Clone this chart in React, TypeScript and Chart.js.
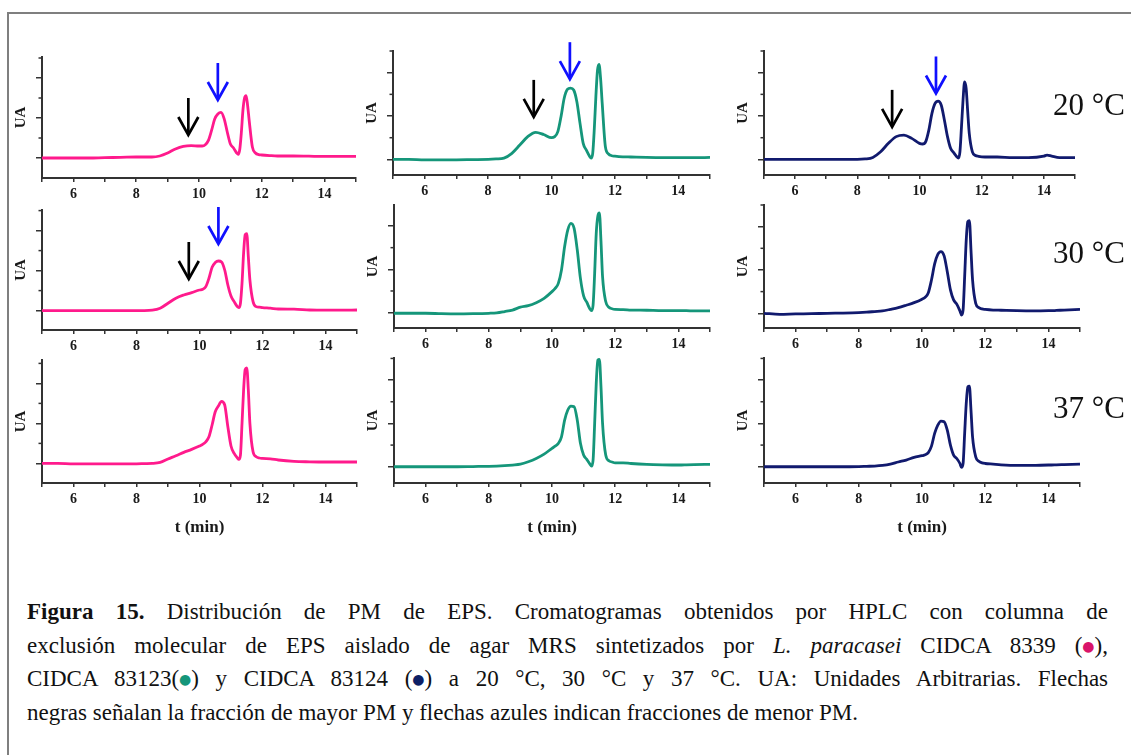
import React, { useEffect, useRef } from "react";
import { Chart, registerables } from "chart.js";

Chart.register(...registerables);

// ---------------- data ----------------
const timeMin = [5, 5.5, 6, 6.5, 7, 7.5, 8, 8.25, 8.5, 8.75, 9, 9.25, 9.5, 9.75, 10, 10.1, 10.2, 10.3, 10.4, 10.5, 10.6, 10.7, 10.8, 10.9, 11, 11.1, 11.2, 11.25, 11.3, 11.35, 11.4, 11.45, 11.5, 11.55, 11.6, 11.7, 11.8, 11.9, 12, 12.25, 12.5, 13, 13.5, 14, 14.1, 14.25, 14.5, 15];

// CIDCA 8339 (pink)
const pink20 = [0, 0, 0, 0, 0.02, 0.03, 0.05, 0.05, 0.05, 0.1, 0.25, 0.45, 0.58, 0.62, 0.6, 0.6, 0.66, 0.88, 1.38, 1.95, 2.2, 2.28, 1.97, 1.3, 0.7, 0.5, 0.25, 0.18, 0.45, 1.3, 2.4, 3.0, 3.12, 2.6, 1.85, 0.55, 0.25, 0.17, 0.15, 0.12, 0.1, 0.1, 0.09, 0.08, 0.08, 0.08, 0.08, 0.08];
const pink30 = [0, 0, 0, 0, 0, 0, 0, 0, 0.02, 0.12, 0.37, 0.62, 0.78, 0.9, 1.03, 1.07, 1.2, 1.62, 2.17, 2.4, 2.48, 2.43, 2.03, 1.28, 0.73, 0.45, 0.2, 0.15, 0.37, 1.37, 2.87, 3.8, 3.85, 2.7, 1.53, 0.45, 0.2, 0.17, 0.15, 0.12, 0.08, 0.07, 0.03, 0.02, 0.02, 0.02, 0.02, 0.03];
const pink37 = [0, 0, -0.02, -0.02, -0.02, -0.02, -0.02, -0.01, 0, 0.05, 0.22, 0.38, 0.55, 0.7, 0.87, 0.95, 1.08, 1.33, 1.92, 2.58, 2.87, 3.1, 2.92, 1.83, 0.87, 0.5, 0.28, 0.2, 0.42, 2.0, 3.67, 4.7, 4.78, 3.67, 2.0, 0.58, 0.33, 0.27, 0.25, 0.23, 0.17, 0.1, 0.08, 0.07, 0.07, 0.07, 0.07, 0.07];

// CIDCA 83123 (green)
const green20 = [0, 0, -0.02, -0.02, -0.02, -0.01, 0, 0.02, 0.06, 0.28, 0.66, 1.05, 1.25, 1.15, 1.0, 1.05, 1.28, 1.97, 2.82, 3.23, 3.29, 3.2, 2.66, 1.66, 0.74, 0.43, 0.15, 0.06, 0.28, 1.4, 2.9, 4.1, 4.38, 3.7, 2.58, 0.58, 0.25, 0.17, 0.15, 0.12, 0.11, 0.09, 0.08, 0.08, 0.08, 0.08, 0.08, 0.09];
const green30 = [-0.03, -0.03, -0.03, -0.05, -0.06, -0.05, -0.03, -0.01, 0.05, 0.12, 0.25, 0.32, 0.46, 0.66, 0.97, 1.12, 1.35, 1.97, 3.05, 3.82, 4.12, 3.89, 2.89, 1.58, 0.77, 0.48, 0.17, 0.09, 0.35, 1.82, 3.66, 4.45, 4.6, 3.3, 1.66, 0.51, 0.25, 0.18, 0.15, 0.14, 0.12, 0.11, 0.09, 0.09, 0.09, 0.09, 0.08, 0.08];
const green37 = [0, 0, 0, 0, 0, 0.01, 0.02, 0.03, 0.05, 0.08, 0.12, 0.23, 0.38, 0.58, 0.85, 0.95, 1.08, 1.38, 2.15, 2.62, 2.8, 2.77, 2.15, 1.08, 0.54, 0.34, 0.12, 0.03, 0.31, 2.0, 3.85, 4.92, 4.95, 3.7, 2.0, 0.54, 0.28, 0.22, 0.18, 0.18, 0.15, 0.11, 0.09, 0.08, 0.08, 0.09, 0.1, 0.11];

// CIDCA 83124 (navy)
const navy20 = [0, 0, 0, 0, 0, 0, 0, 0.02, 0.09, 0.35, 0.74, 1.05, 1.12, 0.97, 0.74, 0.71, 0.82, 1.35, 2.12, 2.58, 2.69, 2.5, 1.82, 1.05, 0.51, 0.31, 0.12, 0.06, 0.35, 1.5, 2.74, 3.58, 3.28, 2.2, 1.2, 0.35, 0.18, 0.14, 0.12, 0.11, 0.11, 0.08, 0.08, 0.15, 0.2, 0.15, 0.08, 0.08];
const navy30 = [0, -0.05, -0.03, -0.02, 0, 0.01, 0.03, 0.05, 0.08, 0.11, 0.18, 0.26, 0.37, 0.49, 0.65, 0.74, 0.95, 1.54, 2.28, 2.72, 2.85, 2.65, 1.92, 1.08, 0.62, 0.42, 0.11, -0.08, 0.15, 1.69, 3.38, 4.23, 4.28, 2.92, 1.54, 0.46, 0.26, 0.2, 0.18, 0.15, 0.14, 0.12, 0.11, 0.12, 0.12, 0.13, 0.15, 0.18];
const navy37 = [0, 0, 0, 0, 0, 0, 0.01, 0.02, 0.03, 0.06, 0.12, 0.22, 0.31, 0.43, 0.51, 0.55, 0.65, 0.95, 1.54, 1.92, 2.11, 2.08, 1.69, 1.0, 0.54, 0.38, 0.15, -0.03, 0.15, 1.54, 2.92, 3.69, 3.72, 2.62, 1.38, 0.46, 0.25, 0.18, 0.15, 0.12, 0.09, 0.06, 0.06, 0.08, 0.08, 0.09, 0.1, 0.12];

// axis ticks
const xTickValues = [5, 6, 7, 8, 9, 10, 11, 12, 13, 14, 15];
const xTickLabels = ["", "6", "", "8", "", "10", "", "12", "", "14", ""];
const yMajorTicks = [0, 2, 4];
const yMinorTicks = [1, 3, 5];

// y-axis ranges per panel [row][col] -> [min, max]
const yRanges = [
  [[-1, 5.05], [-0.72, 5.0], [-0.72, 5.0]],
  [[-0.97, 5.03], [-0.71, 4.97], [-0.68, 5.0]],
  [[-0.98, 5.17], [-0.75, 5.02], [-0.75, 5.02]],
];

// arrows: t (min) and arrow tip (UA); black = higher MW, blue = lower MW
const arrowsPink20 = [
  { t: 9.66, tip: 1.15, kind: "black" },
  { t: 10.6, tip: 2.9, kind: "blue" },
];
const arrowsGreen20 = [
  { t: 9.44, tip: 1.96, kind: "black" },
  { t: 10.58, tip: 3.7, kind: "blue" },
];
const arrowsNavy20 = [
  { t: 9.12, tip: 1.5, kind: "black" },
  { t: 10.53, tip: 3.04, kind: "blue" },
];
const arrowsPink30 = [
  { t: 9.66, tip: 1.58, kind: "black" },
  { t: 10.6, tip: 3.33, kind: "blue" },
];

const temperatures = ["20 °C", "30 °C", "37 °C"];

// ---------------- styles / layout ----------------
const strainColors = ["#ff1a8c", "#15967a", "#111a6e"];
const arrowColors: Record<string, string> = { black: "#000000", blue: "#1010ff" };
const axisColor = "#333333";
const textColor = "#1a1a1a";
const serif = '"Liberation Serif", "Times New Roman", serif';

// chart-area boxes [left, top, right, bottom] in page px
const plotBoxes = [
  [[42, 57, 356, 178], [393, 51, 710, 175], [764, 51, 1075, 175]],
  [[42, 210, 357, 330], [394, 205, 710, 328], [764, 205, 1080, 328]],
  [[42, 360, 357, 483], [394, 358, 710, 483], [764, 358, 1080, 483]],
];
const tempLabelTops = [89, 237, 392];

const seriesGrid = [
  [pink20, green20, navy20],
  [pink30, green30, navy30],
  [pink37, green37, navy37],
];
const arrowGrid: any[][] = [
  [arrowsPink20, arrowsGreen20, arrowsNavy20],
  [arrowsPink30, [], []],
  [[], [], []],
];

type PanelProps = {
  series: number[];
  color: string;
  yMin: number;
  yMax: number;
  box: number[];
  arrows: any[];
  showTitle: boolean;
};

const X_TICK_LEN = 4;
const X_TICK_PAD = 4;
const X_TICK_FONT = 14;
const X_TITLE_FONT = 17;
const X_TITLE_PAD_TOP = 5.7;
const Y_TICK_LEN = 6;
const Y_TITLE_FONT = 15;
const Y_TITLE_PAD = { top: 4, bottom: 6 };

function ChartPanel({ series, color, yMin, yMax, box, arrows, showTitle }: PanelProps) {
  const ref = useRef<HTMLCanvasElement | null>(null);
  const [l, t, r, b] = box;
  const yAxisW = Y_TICK_LEN + Y_TITLE_FONT * 1.2 + Y_TITLE_PAD.top + Y_TITLE_PAD.bottom;
  const xAxisH =
    X_TICK_LEN + X_TICK_FONT * 1.2 + 2 * X_TICK_PAD + (showTitle ? X_TITLE_FONT * 1.2 + X_TITLE_PAD_TOP : 0);
  const padL = 6;
  const padT = 16;
  const padR = 10;
  const cw = r - l + yAxisW + padL + padR;
  const chRaw = padT + (b - t) + xAxisH + 4;
  const ch = Math.ceil(chRaw);
  const padB = ch - (padT + (b - t) + xAxisH);
  const cl = l - yAxisW - padL;
  const ct = t - padT;

  useEffect(() => {
    const canvas = ref.current;
    if (!canvas) return;
    const overlay = {
      id: "overlay",
      afterDraw(chart: any) {
        const { ctx, chartArea } = chart;
        const xs = chart.scales.x;
        const ys = chart.scales.y;
        ctx.save();
        ctx.strokeStyle = axisColor;
        ctx.lineWidth = 1.5;
        yMinorTicks.forEach((v) => {
          if (v <= ys.min + 0.05 || v > ys.max + 0.01) return;
          const py = ys.getPixelForValue(v);
          ctx.beginPath();
          ctx.moveTo(chartArea.left - 3.5, py);
          ctx.lineTo(chartArea.left, py);
          ctx.stroke();
        });
        arrows.forEach((a) => {
          const px = xs.getPixelForValue(a.t);
          const py = ys.getPixelForValue(a.tip);
          ctx.strokeStyle = arrowColors[a.kind];
          ctx.lineWidth = 2.7;
          ctx.lineCap = "butt";
          ctx.lineJoin = "miter";
          ctx.beginPath();
          ctx.moveTo(px, py - 37);
          ctx.lineTo(px, py - 1);
          ctx.stroke();
          ctx.beginPath();
          ctx.moveTo(px - 10, py - 18);
          ctx.lineTo(px, py);
          ctx.lineTo(px + 10, py - 18);
          ctx.stroke();
        });
        ctx.restore();
      },
    };

    const chart = new Chart(canvas, {
      type: "line",
      data: {
        datasets: [
          {
            data: timeMin.map((tm, i) => ({ x: tm, y: series[i] })),
            borderColor: color,
            borderWidth: 2.8,
            pointRadius: 0,
            fill: false,
            cubicInterpolationMode: "monotone",
          },
        ],
      },
      options: {
        animation: false,
        responsive: false,
        devicePixelRatio: 1,
        layout: { padding: { left: padL, top: padT, right: padR, bottom: padB } },
        plugins: {
          legend: { display: false },
          tooltip: { enabled: false },
          title: { display: false },
        },
        scales: {
          x: {
            type: "linear",
            min: 5,
            max: 15,
            afterBuildTicks: (s: any) => {
              s.ticks = xTickValues.map((v) => ({ value: v }));
            },
            afterFit: (s: any) => {
              s.height = xAxisH;
            },
            ticks: {
              autoSkip: false,
              maxRotation: 0,
              minRotation: 0,
              padding: X_TICK_PAD,
              color: textColor,
              font: { family: serif, size: X_TICK_FONT, weight: "bold" },
              callback: (_v: any, i: number) => xTickLabels[i] ?? "",
            },
            grid: {
              drawOnChartArea: false,
              drawTicks: true,
              tickLength: X_TICK_LEN,
              color: axisColor,
              lineWidth: 1.5,
            },
            border: { display: true, color: axisColor, width: 2 },
            title: {
              display: showTitle,
              text: "t (min)",
              color: textColor,
              font: { family: serif, size: X_TITLE_FONT, weight: "bold" },
              padding: { top: X_TITLE_PAD_TOP, bottom: 0 },
            },
          },
          y: {
            type: "linear",
            min: yMin,
            max: yMax,
            afterBuildTicks: (s: any) => {
              s.ticks = yMajorTicks.map((v) => ({ value: v }));
            },
            afterFit: (s: any) => {
              s.width = yAxisW;
            },
            ticks: { display: false },
            grid: {
              drawOnChartArea: false,
              drawTicks: true,
              tickLength: Y_TICK_LEN,
              color: axisColor,
              lineWidth: 1.5,
            },
            border: { display: true, color: axisColor, width: 2 },
            title: {
              display: true,
              text: "UA",
              color: textColor,
              font: { family: serif, size: Y_TITLE_FONT, weight: "bold" },
              padding: Y_TITLE_PAD,
            },
          },
        },
      } as any,
      plugins: [overlay as any],
    });
    return () => chart.destroy();
  }, []);

  return (
    <canvas
      ref={ref}
      width={Math.round(cw)}
      height={ch}
      style={{ position: "absolute", left: cl, top: ct, width: Math.round(cw), height: ch }}
    />
  );
}

function Dot({ c }: { c: string }) {
  return (
    <span
      style={{
        color: c,
        fontFamily: '"DejaVu Sans", sans-serif',
        fontSize: 14,
        lineHeight: 0,
        position: "relative",
        top: -2,
      }}
    >
      ●
    </span>
  );
}

function Tight({ children }: { children: React.ReactNode }) {
  return <span style={{ display: "inline-block", lineHeight: 0, whiteSpace: "nowrap" }}>{children}</span>;
}

export default function App() {
  const just: React.CSSProperties = { textAlign: "justify", textAlignLast: "justify" as any, height: 33.7 };
  return (
    <div
      style={{
        position: "absolute",
        left: 0,
        top: 0,
        width: 1131,
        height: 755,
        overflow: "hidden",
        background: "#ffffff",
      }}
    >
      <div
        style={{
          position: "absolute",
          left: 7,
          top: 12,
          width: 1300,
          height: 900,
          borderTop: "2px solid #7f7f7f",
          borderLeft: "2px solid #7f7f7f",
        }}
      />
      {seriesGrid.map((row, ri) =>
        row.map((s, ci) => (
          <ChartPanel
            key={`${ri}-${ci}`}
            series={s}
            color={strainColors[ci]}
            yMin={yRanges[ri][ci][0]}
            yMax={yRanges[ri][ci][1]}
            box={plotBoxes[ri][ci]}
            arrows={arrowGrid[ri][ci]}
            showTitle={ri === 2}
          />
        ))
      )}
      {temperatures.map((txt, i) => (
        <div
          key={txt}
          style={{
            position: "absolute",
            left: 1053,
            top: tempLabelTops[i],
            fontFamily: serif,
            fontSize: 31,
            lineHeight: "31px",
            whiteSpace: "nowrap",
            color: "#111",
          }}
        >
          {txt}
        </div>
      ))}
      <div
        style={{
          position: "absolute",
          left: 27,
          top: 595,
          width: 1081,
          fontFamily: serif,
          fontSize: 23,
          lineHeight: "33.7px",
          color: "#111",
        }}
      >
        <div style={just}>
          <b>Figura 15.</b> Distribución de PM de EPS. Cromatogramas obtenidos por HPLC con columna de
        </div>
        <div style={just}>
          exclusión molecular de EPS aislado de agar MRS sintetizados por <i>L. paracasei</i> CIDCA 8339{" "}
          <Tight>
            (<Dot c="#d9146a" />),
          </Tight>
        </div>
        <div style={just}>
          CIDCA{" "}
          <Tight>
            83123(<Dot c="#15967a" />)
          </Tight>{" "}
          y CIDCA 83124{" "}
          <Tight>
            (<Dot c="#0d1f66" />)
          </Tight>{" "}
          a 20 °C, 30 °C y 37 °C. UA: Unidades Arbitrarias. Flechas
        </div>
        <div style={{ textAlign: "left", height: 33.7 }}>
          negras señalan la fracción de mayor PM y flechas azules indican fracciones de menor PM.
        </div>
      </div>
    </div>
  );
}
